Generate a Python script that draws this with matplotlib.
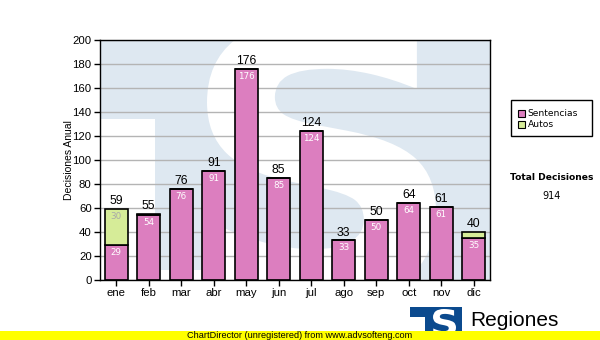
import matplotlib
matplotlib.use("Agg")
import matplotlib.pyplot as plt
import numpy as np
from matplotlib.textpath import TextPath
from matplotlib.patches import PathPatch, Rectangle
from matplotlib.font_manager import FontProperties
from matplotlib.transforms import Affine2D

# ---- data ----
months = ["ene", "feb", "mar", "abr", "may", "jun", "jul", "ago", "sep", "oct", "nov", "dic"]
sentencias = [29, 54, 76, 91, 176, 85, 124, 33, 50, 64, 61, 35]
autos = [30, 1, 0, 0, 0, 0, 0, 0, 0, 0, 0, 5]
series_names = ["Sentencias", "Autos"]
y_ticks = list(range(0, 201, 20))

PINK = "#dc7ebf"
GREEN = "#d6ec98"
WM_BLUE = "#dee8f1"
LOGO_BLUE = "#0b4a8e"
FONT = ["Liberation Sans", "DejaVu Sans"]

W, H = 600, 340
fig = plt.figure(figsize=(W / 100, H / 100), dpi=100)
fig.patch.set_facecolor("white")


def fx(x):
    return x / W


def fy(y):
    return 1 - y / H


ax = fig.add_axes([fx(100), fy(280), fx(390), 240 / H])
ax.set_facecolor(WM_BLUE)


def glyph_patch(ch, box, color, target, zorder, weight="bold"):
    """Place a glyph stretched into a pixel box (x0, y0, x1, y1; y measured from top)."""
    x0, y0, x1, y1 = box
    tp = TextPath((0, 0), ch, prop=FontProperties(family="DejaVu Sans", weight=weight), size=1)
    ext = tp.get_extents()
    tr = (Affine2D()
          .translate(-ext.x0, -ext.y0)
          .scale((x1 - x0) / ext.width / W, (y1 - y0) / ext.height / H)
          .translate(x0 / W, 1 - y1 / H)
          + fig.transFigure)
    p = PathPatch(tp, transform=tr, facecolor=color, edgecolor="none", zorder=zorder)
    target.add_artist(p)
    return p


# watermark logo inside the plot area
wm_parts = [
    Rectangle((fx(100), fy(280)), fx(55), (280 - 119) / H, transform=fig.transFigure,
              facecolor="white", edgecolor="none", zorder=0.1),
    Rectangle((fx(155), fy(280)), fx(225), 10 / H, transform=fig.transFigure,
              facecolor="white", edgecolor="none", zorder=0.1),
]
for r in wm_parts:
    ax.add_artist(r)
    r.set_clip_path(ax.patch)
s_wm = glyph_patch("S", (207, 18, 436, 300), "white", ax, 0.1)
s_wm.set_clip_path(ax.patch)

x = np.arange(len(months))
ax.set_axisbelow(True)
ax.yaxis.grid(True, color="#b4b4b4", linewidth=1.0, zorder=0.5)

ax.bar(x, sentencias, width=0.7, color=PINK, edgecolor="black", linewidth=1.2, zorder=2,
       label=series_names[0])
ax.bar(x, autos, width=0.7, bottom=sentencias, color=GREEN, edgecolor="black", linewidth=1.2,
       zorder=2, label=series_names[1])

totals = [s + a for s, a in zip(sentencias, autos)]
for xi, s, a, t in zip(x, sentencias, autos, totals):
    ax.text(xi, t + 1.5, str(t), ha="center", va="bottom", fontsize=8.8, family=FONT,
            color="black", zorder=3)
    ax.text(xi, s - 2.5, str(s), ha="center", va="top", fontsize=6.3, family="DejaVu Sans",
            color="white", zorder=3)
    if a >= 10:
        ax.text(xi, s + a - 2.5, str(a), ha="center", va="top", fontsize=6.3,
                family="DejaVu Sans", color="#a8a8a8", zorder=3)

ax.set_xlim(-0.5, len(months) - 0.5)
ax.set_ylim(0, 200)
ax.set_yticks(y_ticks)
ax.set_xticks(x)
ax.set_xticklabels(months)
for lab in ax.get_xticklabels() + ax.get_yticklabels():
    lab.set_family(FONT)
    lab.set_fontsize(8.2)
ax.tick_params(axis="both", direction="out", length=4, width=1, color="black", pad=2)
for sp in ax.spines.values():
    sp.set_color("black")
    sp.set_linewidth(1.0)
ax.set_ylabel("Decisiones Anual", fontsize=7.5, family=FONT, labelpad=-1)

# legend box
fig.add_artist(Rectangle((fx(511), fy(136)), fx(81), 36 / H, transform=fig.transFigure,
                         facecolor="white", edgecolor="black", linewidth=1.0))
for i, (name, col) in enumerate(zip(series_names, [PINK, GREEN])):
    yc = 113.5 + 11 * i
    fig.add_artist(Rectangle((fx(518), fy(yc + 3.5)), fx(7), 7 / H, transform=fig.transFigure,
                             facecolor=col, edgecolor="black", linewidth=0.8))
    fig.text(fx(527.5), fy(yc), name, fontsize=6.6, family="DejaVu Sans", va="center", ha="left")

fig.text(fx(552), fy(177), "Total Decisiones", fontsize=6.6, family="DejaVu Sans",
         weight="bold", ha="center", va="center")
fig.text(fx(552), fy(196.5), str(sum(totals)), fontsize=7, family="DejaVu Sans",
         ha="center", va="center")

# footer logo
fig.add_artist(Rectangle((fx(410), fy(317)), fx(52), 10 / H, transform=fig.transFigure,
                         facecolor=LOGO_BLUE, edgecolor="none"))
fig.add_artist(Rectangle((fx(425), fy(340)), fx(37), 33 / H, transform=fig.transFigure,
                         facecolor=LOGO_BLUE, edgecolor="none"))
glyph_patch("S", (433, 309, 456, 336), "white", fig, 3)
fig.text(fx(470), fy(326), "Regiones", fontsize=15, family=FONT, ha="left", va="baseline")

# unregistered banner
fig.add_artist(Rectangle((0, 0), 1, 9 / H, transform=fig.transFigure,
                         facecolor="#ffff00", edgecolor="none", zorder=5))
fig.text(0.5, fy(335.5), "ChartDirector (unregistered) from www.advsofteng.com", fontsize=6.6,
         family=FONT, ha="center", va="center", zorder=6)

fig.savefig("out.png", dpi=100)
